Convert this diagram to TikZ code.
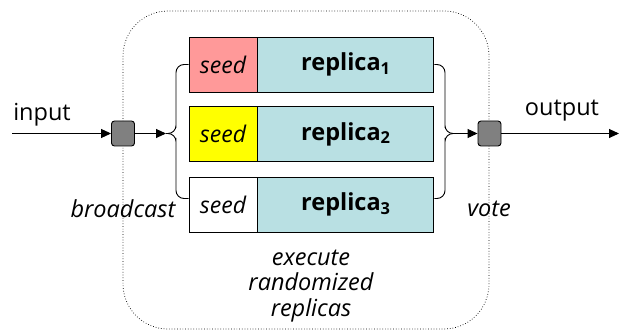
\documentclass[tikz,border=0pt]{standalone}
\usepackage{fontspec}
\setmainfont{Open Sans}
\usetikzlibrary{arrows.meta}
\definecolor{repl}{HTML}{B9E0E3}
\definecolor{seedA}{HTML}{FF9999}
\definecolor{seedB}{HTML}{FFFF00}
\definecolor{sq}{HTML}{808080}
\begin{document}
\begin{tikzpicture}[x=1pt,y=-1pt,
  seedbox/.style={draw, line width=0.9pt, minimum width=68pt, minimum height=55pt, inner sep=0pt, font=\fontsize{23}{26}\selectfont\itshape},
  replbox/.style={draw, line width=0.9pt, fill=repl, minimum width=176pt, minimum height=55pt, inner sep=0pt, font=\fontsize{23.5}{27}\selectfont\bfseries},
  sqbox/.style={draw, line width=0.9pt, fill=sq, rounded corners=3pt, minimum width=23pt, minimum height=25pt, inner sep=0pt},
  lbl/.style={font=\fontsize{23.5}{26}\selectfont},
  ilbl/.style={font=\fontsize{23.5}{25.5}\selectfont\itshape, align=center},
  arr/.style={line width=0.9pt, -{Triangle[length=10pt,width=9pt]}},
  brace/.style={line width=0.9pt, rounded corners=8pt}]
\useasboundingbox (0,0) rectangle (619,331);
\draw[dotted, line width=0.7pt, rounded corners=45pt] (123,11) rectangle (489,329);
\node[seedbox, fill=seedA] (s1) at (223,64.5) {seed};
\node[seedbox, fill=seedB] (s2) at (223,134) {seed};
\node[seedbox, fill=white] (s3) at (223,204.5) {seed};
\node[replbox, anchor=west] (r1) at (s1.east) {replica\textsubscript{1}};
\node[replbox, anchor=west] (r2) at (s2.east) {replica\textsubscript{2}};
\node[replbox, anchor=west] (r3) at (s3.east) {replica\textsubscript{3}};
\node[sqbox] (bc) at (123,133.5) {};
\node[sqbox] (vt) at (489.5,133.5) {};
\coordinate (in) at (12,133.5);
\coordinate (out) at (619,133.5);
\coordinate (lb) at (166,133.5);
\coordinate (rb) at (455,133.5);
\draw[arr] (in) -- (bc.west);
\draw[arr] (bc.east) -- (lb);
\draw[brace] (s1.west) -| (176,90) -- (176,120) |- (lb);
\draw[brace] ([yshift=6pt]s3.west) -| (176,180) -- (176,146) |- (lb);
\draw[brace] (r1.east) -| (445,90) -- (445,120) |- (rb);
\draw[brace] ([yshift=6pt]r3.east) -| (445,180) -- (445,146) |- (rb);
\draw[arr] (rb) -- (vt.west);
\draw[arr] (vt.east) -- (out);
\node[lbl] (tin) at (42,115) {input};
\node[lbl] (tout) at (562,111) {output};
\node[ilbl] (tbc) at (123,209) {broadcast};
\node[ilbl] (tvt) at (489,209) {vote};
\node[ilbl] (tex) at (311,286) {execute\\randomized\\replicas};
\end{tikzpicture}
\end{document}
